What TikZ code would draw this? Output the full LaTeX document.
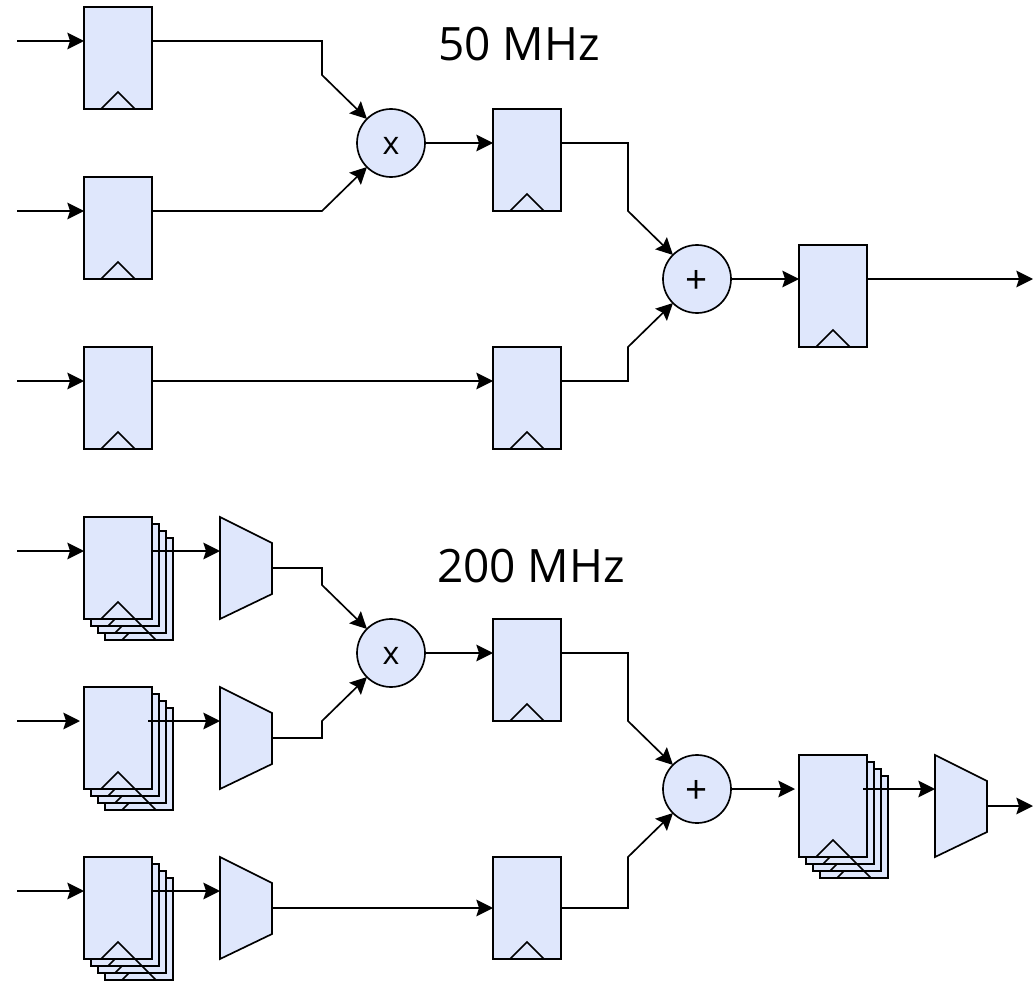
\documentclass[tikz,border=0pt]{standalone}
\usepackage{fontspec}
\setmainfont{Open Sans}
\usetikzlibrary{arrows.meta}
\definecolor{blk}{HTML}{DFE7FC}
\tikzset{
  x=0.75pt,y=-0.75pt,
  wire/.style={line width=1.25pt,line join=miter},
  arr/.style={wire,-{Stealth[length=12.5pt,width=12.5pt,inset=2pt]}},
  regbox/.style={draw=black,fill=blk,line width=1.25pt,rectangle,minimum width=51pt,minimum height=76.5pt,inner sep=0pt,outer sep=0pt},
  clk/.style={line width=1.25pt,line join=miter},
  opnode/.style={draw=black,fill=blk,line width=1.25pt,circle,minimum size=51pt,inner sep=0pt,outer sep=0pt},
  oplabel/.style={font=\fontsize{24}{24}\selectfont,inner sep=0pt,outer sep=0pt},
  pluslabel/.style={font=\fontsize{29}{29}\selectfont,inner sep=0pt,outer sep=0pt},
  muxanchor/.style={rectangle,minimum width=39pt,minimum height=76.5pt,inner sep=0pt,outer sep=0pt},
  muxshape/.style={draw=black,fill=blk,line width=1.25pt,line join=miter},
  freq/.style={font=\fontsize{34.5}{34.5}\selectfont,inner sep=0pt,outer sep=0pt}
}
% name, left, top
\newcommand{\regat}[3]{%
  \node[regbox,anchor=north west] (#1) at (#2,#3) {};
  \draw[clk] (#2+17,#3+102) -- (#2+34,#3+85) -- (#2+51,#3+102);
  \coordinate (#1-in) at (#2,#3+34);
  \coordinate (#1-out) at (#2+68,#3+34);
}
\newcommand{\stackat}[3]{%
  \foreach \off/\lbl in {21/c,14/b,7/a}{%
    \node[regbox,anchor=north west] (#1\lbl) at (#2+\off,#3+\off) {};
    \draw[clk] (#2+\off+17,#3+\off+102) -- (#2+\off+34,#3+\off+85) -- (#2+\off+51,#3+\off+102);
  }
  \regat{#1}{#2}{#3}
}
\newcommand{\muxat}[3]{%
  \node[muxanchor,anchor=north west] (#1) at (#2,#3) {};
  \draw[muxshape] (#2,#3) -- (#2+52,#3+26) -- (#2+52,#3+77) -- (#2,#3+102) -- cycle;
  \coordinate (#1-in) at (#2,#3+34);
}
\begin{document}
\begin{tikzpicture}
\useasboundingbox (0,0) rectangle (1033,981);
% top
\regat{a}{84}{7}
\regat{b}{84}{177}
\regat{c}{84}{347}
\regat{d}{493}{109}
\regat{e}{493}{347}
\regat{f}{799}{245}
\node[opnode] (mul) at (391,143) {};
\node[oplabel] (mulx) at (391,146) {x};
\node[opnode] (add) at (697,279) {};
\node[pluslabel] (addx) at (697,282) {+};
\node[freq] (t1) at (519,44) {50 MHz};
\coordinate (ia) at (17,41);
\coordinate (ib) at (17,211);
\coordinate (ic) at (17,381);
\coordinate (of) at (1033,279);
\draw[arr] (ia) -- (a-in);
\draw[arr] (ib) -- (b-in);
\draw[arr] (ic) -- (c-in);
\draw[arr] (a-out) -| (322,75) -- (mul.135);
\draw[arr] (b-out) -- (322,211) -- (mul.225);
\draw[arr] (c-out) -- (e-in);
\draw[arr] (mul.east) -- (d-in);
\draw[arr] (d-out) -| (628,211) -- (add.135);
\draw[arr] (e-out) -| (628,347) -- (add.225);
\draw[arr] (add.east) -- (f-in);
\draw[arr] (f-out) -- (of);
% bottom
\stackat{g}{84}{517}
\stackat{h}{84}{687}
\stackat{i}{84}{857}
\muxat{mg}{220}{517}
\muxat{mh}{220}{687}
\muxat{mi}{220}{857}
\regat{j}{493}{619}
\regat{k}{493}{857}
\stackat{l}{799}{755}
\muxat{ml}{935}{755}
\node[opnode] (mul2) at (391,653) {};
\node[oplabel] (mul2x) at (391,656) {x};
\node[opnode] (add2) at (697,789) {};
\node[pluslabel] (add2x) at (697,792) {+};
\node[freq] (t2) at (531,566) {200 MHz};
\coordinate (ig) at (17,551);
\coordinate (ih) at (17,721);
\coordinate (ii) at (17,891);
\coordinate (ol) at (1033,806);
\draw[arr] (ig) -- (g-in);
\draw[arr] (ih) -- ([xshift=-3pt]h-in);
\draw[arr] (ii) -- (i-in);
\draw[arr] (g-out) -- (mg-in);
\draw[arr] ([xshift=-3pt]h-out) -- (mh-in);
\draw[arr] (i-out) -- (mi-in);
\draw[arr] (mg.east) -| (322,585) -- (mul2.135);
\draw[arr] (mh.east) -| (322,721) -- (mul2.225);
\draw[arr] (mi.east) -- (k-in |- mi.east);
\draw[arr] (mul2.east) -- (j-in);
\draw[arr] (j-out) -| (628,721) -- (add2.135);
\draw[arr] (k-out |- mi.east) -| (628,857) -- (add2.225);
\draw[arr] (add2.east) -- ([xshift=-3pt]l-in);
\draw[arr] ([xshift=-3pt]l-out) -- (ml-in);
\draw[arr] (ml.east) -- (ol);
\end{tikzpicture}
\end{document}
